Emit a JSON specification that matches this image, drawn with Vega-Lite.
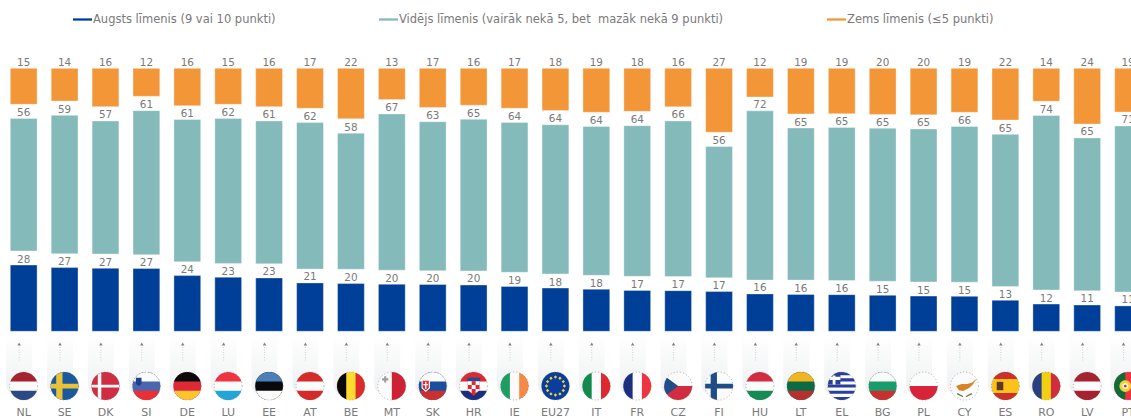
{"$schema":"https://vega.github.io/schema/vega-lite/v6.json","width":1131,"height":402,"autosize":"none","padding":{"left":0,"top":0,"right":0,"bottom":16},"background":"white",
"config":{"view":{"stroke":null},"font":"DejaVu Sans"},
"datasets":{
"countries":[{"country":"NL"},{"country":"SE"},{"country":"DK"},{"country":"SI"},{"country":"DE"},{"country":"LU"},{"country":"EE"},{"country":"AT"},{"country":"BE"},{"country":"MT"},{"country":"SK"},{"country":"HR"},{"country":"IE"},{"country":"EU27"},{"country":"IT"},{"country":"FR"},{"country":"CZ"},{"country":"FI"},{"country":"HU"},{"country":"LT"},{"country":"EL"},{"country":"BG"},{"country":"PL"},{"country":"CY"},{"country":"ES"},{"country":"RO"},{"country":"LV"},{"country":"PT"}],
"bars":[
{"country":"NL","level":"H","value":28,"low":0,"high":28.2},{"country":"NL","level":"M","value":56,"low":34.2,"high":90.6},{"country":"NL","level":"L","value":15,"low":96.6,"high":111.9},
{"country":"SE","level":"H","value":27,"low":0,"high":27.1},{"country":"SE","level":"M","value":59,"low":33.0,"high":91.9},{"country":"SE","level":"L","value":14,"low":98.0,"high":111.9},
{"country":"DK","level":"H","value":27,"low":0,"high":26.8},{"country":"DK","level":"M","value":57,"low":32.9,"high":89.5},{"country":"DK","level":"L","value":16,"low":95.6,"high":111.9},
{"country":"SI","level":"H","value":27,"low":0,"high":26.7},{"country":"SI","level":"M","value":61,"low":32.6,"high":93.9},{"country":"SI","level":"L","value":12,"low":100.0,"high":111.9},
{"country":"DE","level":"H","value":24,"low":0,"high":23.7},{"country":"DE","level":"M","value":61,"low":29.6,"high":90.1},{"country":"DE","level":"L","value":16,"low":96.0,"high":111.9},
{"country":"LU","level":"H","value":23,"low":0,"high":23.0},{"country":"LU","level":"M","value":62,"low":28.9,"high":90.6},{"country":"LU","level":"L","value":15,"low":96.6,"high":111.9},
{"country":"EE","level":"H","value":23,"low":0,"high":22.7},{"country":"EE","level":"M","value":61,"low":28.7,"high":89.5},{"country":"EE","level":"L","value":16,"low":95.6,"high":111.9},
{"country":"AT","level":"H","value":21,"low":0,"high":20.6},{"country":"AT","level":"M","value":62,"low":26.5,"high":88.8},{"country":"AT","level":"L","value":17,"low":94.9,"high":111.9},
{"country":"BE","level":"H","value":20,"low":0,"high":20.3},{"country":"BE","level":"M","value":58,"low":26.4,"high":84.3},{"country":"BE","level":"L","value":22,"low":90.4,"high":111.9},
{"country":"MT","level":"H","value":20,"low":0,"high":20.0},{"country":"MT","level":"M","value":67,"low":26.0,"high":92.5},{"country":"MT","level":"L","value":13,"low":98.6,"high":111.9},
{"country":"SK","level":"H","value":20,"low":0,"high":19.9},{"country":"SK","level":"M","value":63,"low":25.8,"high":89.2},{"country":"SK","level":"L","value":17,"low":95.2,"high":111.9},
{"country":"HR","level":"H","value":20,"low":0,"high":19.7},{"country":"HR","level":"M","value":65,"low":25.7,"high":90.2},{"country":"HR","level":"L","value":16,"low":96.2,"high":111.9},
{"country":"IE","level":"H","value":19,"low":0,"high":19.1},{"country":"IE","level":"M","value":64,"low":25.1,"high":88.9},{"country":"IE","level":"L","value":17,"low":94.9,"high":111.9},
{"country":"EU27","level":"H","value":18,"low":0,"high":18.4},{"country":"EU27","level":"M","value":64,"low":24.4,"high":87.9},{"country":"EU27","level":"L","value":18,"low":94.0,"high":111.9},
{"country":"IT","level":"H","value":18,"low":0,"high":17.9},{"country":"IT","level":"M","value":64,"low":23.8,"high":87.2},{"country":"IT","level":"L","value":19,"low":93.2,"high":111.9},
{"country":"FR","level":"H","value":17,"low":0,"high":17.4},{"country":"FR","level":"M","value":64,"low":23.4,"high":87.5},{"country":"FR","level":"L","value":18,"low":93.6,"high":111.9},
{"country":"CZ","level":"H","value":17,"low":0,"high":17.3},{"country":"CZ","level":"M","value":66,"low":23.3,"high":89.5},{"country":"CZ","level":"L","value":16,"low":95.5,"high":111.9},
{"country":"FI","level":"H","value":17,"low":0,"high":16.9},{"country":"FI","level":"M","value":56,"low":22.8,"high":78.6},{"country":"FI","level":"L","value":27,"low":84.7,"high":111.9},
{"country":"HU","level":"H","value":16,"low":0,"high":15.9},{"country":"HU","level":"M","value":72,"low":21.8,"high":93.8},{"country":"HU","level":"L","value":12,"low":99.7,"high":111.9},
{"country":"LT","level":"H","value":16,"low":0,"high":15.7},{"country":"LT","level":"M","value":65,"low":21.8,"high":86.5},{"country":"LT","level":"L","value":19,"low":92.5,"high":111.9},
{"country":"EL","level":"H","value":16,"low":0,"high":15.6},{"country":"EL","level":"M","value":65,"low":21.6,"high":86.7},{"country":"EL","level":"L","value":19,"low":92.6,"high":111.9},
{"country":"BG","level":"H","value":15,"low":0,"high":15.3},{"country":"BG","level":"M","value":65,"low":21.3,"high":86.4},{"country":"BG","level":"L","value":20,"low":92.3,"high":111.9},
{"country":"PL","level":"H","value":15,"low":0,"high":15.0},{"country":"PL","level":"M","value":65,"low":21.0,"high":86.1},{"country":"PL","level":"L","value":20,"low":92.1,"high":111.9},
{"country":"CY","level":"H","value":15,"low":0,"high":14.9},{"country":"CY","level":"M","value":66,"low":20.9,"high":87.2},{"country":"CY","level":"L","value":19,"low":93.2,"high":111.9},
{"country":"ES","level":"H","value":13,"low":0,"high":13.2},{"country":"ES","level":"M","value":65,"low":19.1,"high":83.8},{"country":"ES","level":"L","value":22,"low":89.9,"high":111.9},
{"country":"RO","level":"H","value":12,"low":0,"high":11.6},{"country":"RO","level":"M","value":74,"low":17.6,"high":91.8},{"country":"RO","level":"L","value":14,"low":97.9,"high":111.9},
{"country":"LV","level":"H","value":11,"low":0,"high":11.2},{"country":"LV","level":"M","value":65,"low":17.2,"high":82.3},{"country":"LV","level":"L","value":24,"low":88.2,"high":111.9},
{"country":"PT","level":"H","value":11,"low":0,"high":10.8},{"country":"PT","level":"M","value":71,"low":16.7,"high":87.4},{"country":"PT","level":"L","value":19,"low":93.3,"high":111.9}
],
"flags":[
{"country":"NL","part":"disc","tint":"white"},{"country":"NL","part":"top3","tint":"nlred"},{"country":"NL","part":"bot3","tint":"nlblue"},
{"country":"SE","part":"disc","tint":"seblue"},{"country":"SE","part":"nordicV","tint":"seyellow"},{"country":"SE","part":"nordicH","tint":"seyellow"},
{"country":"DK","part":"disc","tint":"dkred"},{"country":"DK","part":"thinV","tint":"white"},{"country":"DK","part":"thinH","tint":"white"},
{"country":"SI","part":"disc","tint":"siblue"},{"country":"SI","part":"top3","tint":"white"},{"country":"SI","part":"bot3","tint":"sired"},{"country":"SI","part":"siShield","tint":"navy"},
{"country":"DE","part":"disc","tint":"dered"},{"country":"DE","part":"top3","tint":"black"},{"country":"DE","part":"bot3","tint":"degold"},
{"country":"LU","part":"disc","tint":"white"},{"country":"LU","part":"top3","tint":"lured"},{"country":"LU","part":"bot3","tint":"lublue"},
{"country":"EE","part":"disc","tint":"black"},{"country":"EE","part":"top3","tint":"eeblue"},{"country":"EE","part":"bot3","tint":"white"},
{"country":"AT","part":"disc","tint":"white"},{"country":"AT","part":"top3","tint":"atred"},{"country":"AT","part":"bot3","tint":"atred"},
{"country":"BE","part":"disc","tint":"beyellow"},{"country":"BE","part":"left3","tint":"black"},{"country":"BE","part":"right3","tint":"bered"},
{"country":"MT","part":"disc","tint":"white"},{"country":"MT","part":"rightHalf","tint":"mtred"},{"country":"MT","part":"mtCross","tint":"mtgrey"},
{"country":"SK","part":"disc","tint":"skblue"},{"country":"SK","part":"top3","tint":"white"},{"country":"SK","part":"bot3","tint":"skred"},{"country":"SK","part":"skShield","tint":"white"},{"country":"SK","part":"skInner","tint":"bered"},{"country":"SK","part":"skBar","tint":"white"},
{"country":"HR","part":"disc","tint":"white"},{"country":"HR","part":"top3","tint":"bered"},{"country":"HR","part":"bot3","tint":"hrblue"},{"country":"HR","part":"hrCrown","tint":"skblue"},{"country":"HR","part":"hrShield","tint":"bered"},{"country":"HR","part":"hrChecks","tint":"white"},
{"country":"IE","part":"disc","tint":"white"},{"country":"IE","part":"left3","tint":"iegreen"},{"country":"IE","part":"right3","tint":"ieorange"},
{"country":"EU27","part":"disc","tint":"eublue"},{"country":"EU27","part":"euStars","tint":"eugold"},
{"country":"IT","part":"disc","tint":"white"},{"country":"IT","part":"left3","tint":"itgreen"},{"country":"IT","part":"right3","tint":"bered"},
{"country":"FR","part":"disc","tint":"white"},{"country":"FR","part":"left3","tint":"hrblue"},{"country":"FR","part":"right3","tint":"lured"},
{"country":"CZ","part":"disc","tint":"white"},{"country":"CZ","part":"botHalf","tint":"dkred"},{"country":"CZ","part":"czWedge","tint":"czblue"},
{"country":"FI","part":"disc","tint":"white"},{"country":"FI","part":"nordicV","tint":"czblue"},{"country":"FI","part":"nordicH","tint":"czblue"},
{"country":"HU","part":"disc","tint":"white"},{"country":"HU","part":"top3","tint":"dkred"},{"country":"HU","part":"bot3","tint":"hugreen"},
{"country":"LT","part":"disc","tint":"ltgreen"},{"country":"LT","part":"top3","tint":"ltyellow"},{"country":"LT","part":"bot3","tint":"ltred"},
{"country":"EL","part":"disc","tint":"white"},{"country":"EL","part":"elStripes","tint":"elblue"},{"country":"EL","part":"elCanton","tint":"elblue"},{"country":"EL","part":"elCross","tint":"white"},
{"country":"BG","part":"disc","tint":"bggreen"},{"country":"BG","part":"top3","tint":"white"},{"country":"BG","part":"bot3","tint":"skred"},
{"country":"PL","part":"disc","tint":"white"},{"country":"PL","part":"botHalf","tint":"plred"},
{"country":"CY","part":"disc","tint":"white"},{"country":"CY","part":"cyIsland","tint":"cyorange"},{"country":"CY","part":"cyWreath","tint":"cygreen"},
{"country":"ES","part":"disc","tint":"esyellow"},{"country":"ES","part":"top4","tint":"skred"},{"country":"ES","part":"bot4","tint":"skred"},{"country":"ES","part":"esArms","tint":"esbrown"},
{"country":"RO","part":"disc","tint":"royellow"},{"country":"RO","part":"left3","tint":"roblue"},{"country":"RO","part":"right3","tint":"dkred"},
{"country":"LV","part":"disc","tint":"white"},{"country":"LV","part":"top3","tint":"nlred"},{"country":"LV","part":"bot3","tint":"nlred"},
{"country":"PT","part":"disc","tint":"lured"},{"country":"PT","part":"ptGreen","tint":"ptgreen"},{"country":"PT","part":"ptRing","tint":"eugold"},{"country":"PT","part":"ptInner","tint":"white"},{"country":"PT","part":"ptCore","tint":"bered"}
]
},
"encoding":{"x":{"field":"country","type":"nominal","sort":null,"title":null,
"scale":{"domain":["NL","SE","DK","SI","DE","LU","EE","AT","BE","MT","SK","HR","IE","EU27","IT","FR","CZ","FI","HU","LT","EL","BG","PL","CY","ES","RO","LV","PT"],"range":[10.3,1141.5],"paddingInner":0.345,"paddingOuter":0},
"axis":{"domain":false,"ticks":false,"labelAngle":0,"labelFont":"DejaVu Sans","labelFontSize":11,"labelColor":"#7a7a7a","labelPadding":4.5,"title":null,"labelOverlap":false,"grid":false}}},
"layer":[
{"data":{"name":"countries"},"mark":{"type":"bar","width":26,"xOffset":-4.6,"cornerRadiusBottomLeft":10,"cornerRadiusBottomRight":10,"color":{"gradient":"linear","x1":0,"y1":0,"x2":0,"y2":1,"stops":[{"offset":0,"color":"#ffffff"},{"offset":1,"color":"#eef0f1"}]}},
"encoding":{"y":{"datum":-0.8,"type":"quantitative","scale":{"domain":[-30.09,140.98],"nice":false,"zero":false},"axis":null},"y2":{"datum":-27}}},
{"data":{"name":"countries"},"mark":{"type":"rule","xOffset":-4.6,"color":"#cfd1d3","strokeWidth":1,"strokeDash":[1,1.5]},
"encoding":{"y":{"datum":-6.7,"type":"quantitative"},"y2":{"datum":-12.9}}},
{"data":{"name":"countries"},"mark":{"type":"point","shape":"triangle-up","filled":true,"size":12,"xOffset":-4.6,"color":"#808080","opacity":1},
"encoding":{"y":{"datum":-5.4,"type":"quantitative"}}},
{"data":{"name":"bars"},"mark":{"type":"bar","width":26.8,"stroke":"#ffffff","strokeOpacity":0.35,"strokeWidth":1},
"encoding":{"y":{"field":"low","type":"quantitative","title":null},"y2":{"field":"high"},
"color":{"field":"level","type":"nominal","scale":{"domain":["H","M","L"],"range":["#003f97","#84baba","#f39638"]},
"legend":{"orient":"none","legendX":73,"legendY":10,"columns":3,"direction":"horizontal","columnPadding":103,"title":null,"symbolType":"M-1,-0.12L1,-0.12L1,0.12L-1,0.12Z","symbolSize":361,"symbolStrokeWidth":0,"symbolOpacity":1,"labelFont":"DejaVu Sans","labelFontSize":11.5,"labelColor":"#7a7a7a","labelOffset":1,"padding":0,"labelLimit":500,
"labelExpr":"{'H':'Augsts līmenis (9 vai 10 punkti)','M':'Vidējs līmenis (vairāk nekā 5, bet\u00a0 mazāk nekā 9 punkti)','L':'Zems līmenis (≤5 punkti)'}[datum.label]"}}}},
{"data":{"name":"bars"},"mark":{"type":"text","baseline":"alphabetic","dy":-2.5,"fontSize":10.4,"font":"DejaVu Sans","color":"#7a7a7a"},
"encoding":{"y":{"field":"high","type":"quantitative"},"text":{"field":"value","type":"quantitative"}}},
{"data":{"name":"flags"},"mark":{"type":"point","filled":true,"size":784,"opacity":1,"strokeWidth":0},
"encoding":{"y":{"datum":-23.3,"type":"quantitative"},
"shape":{"field":"part","type":"nominal","legend":null,"scale":{
"domain":["disc","top3","bot3","left3","right3","rightHalf","botHalf","top4","bot4","nordicV","nordicH","thinV","thinH","siShield","mtCross","skShield","skInner","skBar","hrCrown","hrShield","hrChecks","euStars","czWedge","elStripes","elCanton","elCross","cyIsland","cyWreath","esArms","ptGreen","ptRing","ptInner","ptCore"],
"range":[
"M-1,0A1,1 0 1 1 1,0A1,1 0 1 1 -1,0Z",
"M-0.943,-0.333A1,1 0 0 1 0.943,-0.333Z",
"M0.943,0.333A1,1 0 0 1 -0.943,0.333Z",
"M-0.333,0.943A1,1 0 0 1 -0.333,-0.943Z",
"M0.333,-0.943A1,1 0 0 1 0.333,0.943Z",
"M0,-1A1,1 0 0 1 0,1Z",
"M1,0A1,1 0 0 1 -1,0Z",
"M-0.866,-0.5A1,1 0 0 1 0.866,-0.5Z",
"M0.866,0.5A1,1 0 0 1 -0.866,0.5Z",
"M-0.6,-0.8A1,1 0 0 1 -0.15,-0.989L-0.15,0.989A1,1 0 0 1 -0.6,0.8Z",
"M-0.985,-0.17L0.985,-0.17A1,1 0 0 1 0.985,0.17L-0.985,0.17A1,1 0 0 1 -0.985,-0.17Z",
"M-0.55,-0.835A1,1 0 0 1 -0.3,-0.954L-0.3,0.954A1,1 0 0 1 -0.55,0.835Z",
"M-0.995,-0.1L0.995,-0.1A1,1 0 0 1 0.995,0.1L-0.995,0.1A1,1 0 0 1 -0.995,-0.1Z",
"M-0.75,-0.6L-0.35,-0.6L-0.35,-0.15L-0.55,0L-0.75,-0.15Z",
"M-0.7,-0.55L-0.55,-0.55L-0.55,-0.7L-0.4,-0.7L-0.4,-0.55L-0.25,-0.55L-0.25,-0.4L-0.4,-0.4L-0.4,-0.25L-0.55,-0.25L-0.55,-0.4L-0.7,-0.4Z",
"M-0.8,-0.45L-0.2,-0.45L-0.2,0.15L-0.5,0.42L-0.8,0.15Z",
"M-0.72,-0.37L-0.28,-0.37L-0.28,0.12L-0.5,0.32L-0.72,0.12Z",
"M-0.55,-0.3L-0.45,-0.3L-0.45,-0.15L-0.33,-0.15L-0.33,-0.05L-0.45,-0.05L-0.45,0.2L-0.55,0.2L-0.55,-0.05L-0.67,-0.05L-0.67,-0.15L-0.55,-0.15Z",
"M-0.45,-0.35L-0.45,-0.6L0.45,-0.6L0.45,-0.35Z",
"M-0.42,-0.35L0.42,-0.35L0.42,0.3L0,0.72L-0.42,0.3Z",
"M-0.42,-0.35L-0.14,-0.35L-0.14,-0.07L-0.42,-0.07ZM0.14,-0.35L0.42,-0.35L0.42,-0.07L0.14,-0.07ZM-0.14,-0.07L0.14,-0.07L0.14,0.21L-0.14,0.21ZM-0.42,0.21L-0.14,0.21L-0.14,0.49L-0.42,0.3ZM0.14,0.21L0.42,0.21L0.42,0.3L0.14,0.49Z",
"M0,-0.76L0.12,-0.64L0,-0.52L-0.12,-0.64ZM0.32,-0.68L0.44,-0.56L0.32,-0.44L0.2,-0.56ZM0.56,-0.44L0.68,-0.32L0.56,-0.2L0.44,-0.32ZM0.64,-0.12L0.76,0L0.64,0.12L0.52,0ZM0.56,0.2L0.68,0.32L0.56,0.44L0.44,0.32ZM0.32,0.44L0.44,0.56L0.32,0.68L0.2,0.56ZM0,0.52L0.12,0.64L0,0.76L-0.12,0.64ZM-0.32,0.44L-0.2,0.56L-0.32,0.68L-0.44,0.56ZM-0.56,0.2L-0.44,0.32L-0.56,0.44L-0.68,0.32ZM-0.64,-0.12L-0.52,0L-0.64,0.12L-0.76,0ZM-0.56,-0.44L-0.44,-0.32L-0.56,-0.2L-0.68,-0.32ZM-0.32,-0.68L-0.2,-0.56L-0.32,-0.44L-0.44,-0.56Z",
"M-0.8,-0.6L0,0L-0.8,0.6A1,1 0 0 1 -0.8,-0.6Z",
"M-0.628,-0.778A1,1 0 0 1 0.628,-0.778ZM-0.831,-0.556L0.831,-0.556L0.943,-0.333L-0.943,-0.333ZM-0.994,-0.111L0.994,-0.111L0.994,0.111L-0.994,0.111ZM-0.943,0.333L0.943,0.333L0.831,0.556L-0.831,0.556ZM-0.628,0.778L0.628,0.778A1,1 0 0 1 -0.628,0.778Z",
"M-0.994,-0.111L-0.1,-0.111L-0.1,-0.995A1,1 0 0 0 -0.994,-0.111Z",
"M-0.65,-0.76L-0.45,-0.76L-0.45,-0.66L-0.1,-0.66L-0.1,-0.44L-0.45,-0.44L-0.45,-0.111L-0.65,-0.111L-0.65,-0.44L-0.88,-0.44L-0.88,-0.66L-0.65,-0.66Z",
"M-0.6,0L-0.2,-0.15L0.2,-0.15L0.55,-0.25L0.9,-0.55L0.55,-0.05L0.3,0.15L-0.1,0.35L-0.4,0.3Z",
"M-0.5,0.5L-0.1,0.72L-0.1,0.8L-0.55,0.58ZM0.5,0.5L0.1,0.72L0.1,0.8L0.55,0.58Z",
"M-0.62,-0.3L-0.15,-0.3L-0.15,0.3L-0.62,0.3Z",
"M-0.2,0.98A1,1 0 0 1 -0.2,-0.98Z",
"M-0.62,0A0.42,0.42 0 1 1 0.22,0A0.42,0.42 0 1 1 -0.62,0Z",
"M-0.42,0A0.22,0.22 0 1 1 0.02,0A0.22,0.22 0 1 1 -0.42,0Z",
"M-0.3,0A0.1,0.1 0 1 1 -0.1,0A0.1,0.1 0 1 1 -0.3,0Z"
]}},
"fill":{"field":"tint","type":"nominal","legend":null,"scale":{
"domain":["white","black","navy","nlred","nlblue","seblue","seyellow","dkred","siblue","sired","dered","degold","lured","lublue","eeblue","atred","beyellow","bered","mtred","mtgrey","skblue","skred","hrblue","iegreen","ieorange","eublue","eugold","itgreen","czblue","hugreen","ltgreen","ltyellow","ltred","elblue","bggreen","plred","cyorange","cygreen","esyellow","esbrown","royellow","roblue","ptgreen"],
"range":["#fbfbfb","#0a0a0c","#1f3f8f","#a6222f","#2b4a85","#1a5a9c","#e9c23a","#d02c42","#4a66ad","#ee2e35","#dd2a36","#fcc52f","#ef3340","#22a6d8","#4a7fba","#d42a2a","#fddc2e","#dc2a30","#cc2233","#a89a9a","#1a4f9e","#c9302f","#1a2f80","#1f9d60","#f48a45","#0a3d9c","#f6d22f","#138a4d","#1f4d87","#168b55","#0b6b45","#f4b41f","#b63030","#2a3f96","#189c6b","#d8243a","#d98324","#5f7a4a","#fcc11a","#5a3a20","#f2cf10","#263f85","#0f6b3a"]}}}},
{"data":{"name":"countries"},"mark":{"type":"point","shape":"circle","size":784,"filled":false,"stroke":"#777777","strokeWidth":0.5,"strokeDash":[1.2,2],"opacity":1},
"encoding":{"y":{"datum":-23.3,"type":"quantitative"}}}
]}
